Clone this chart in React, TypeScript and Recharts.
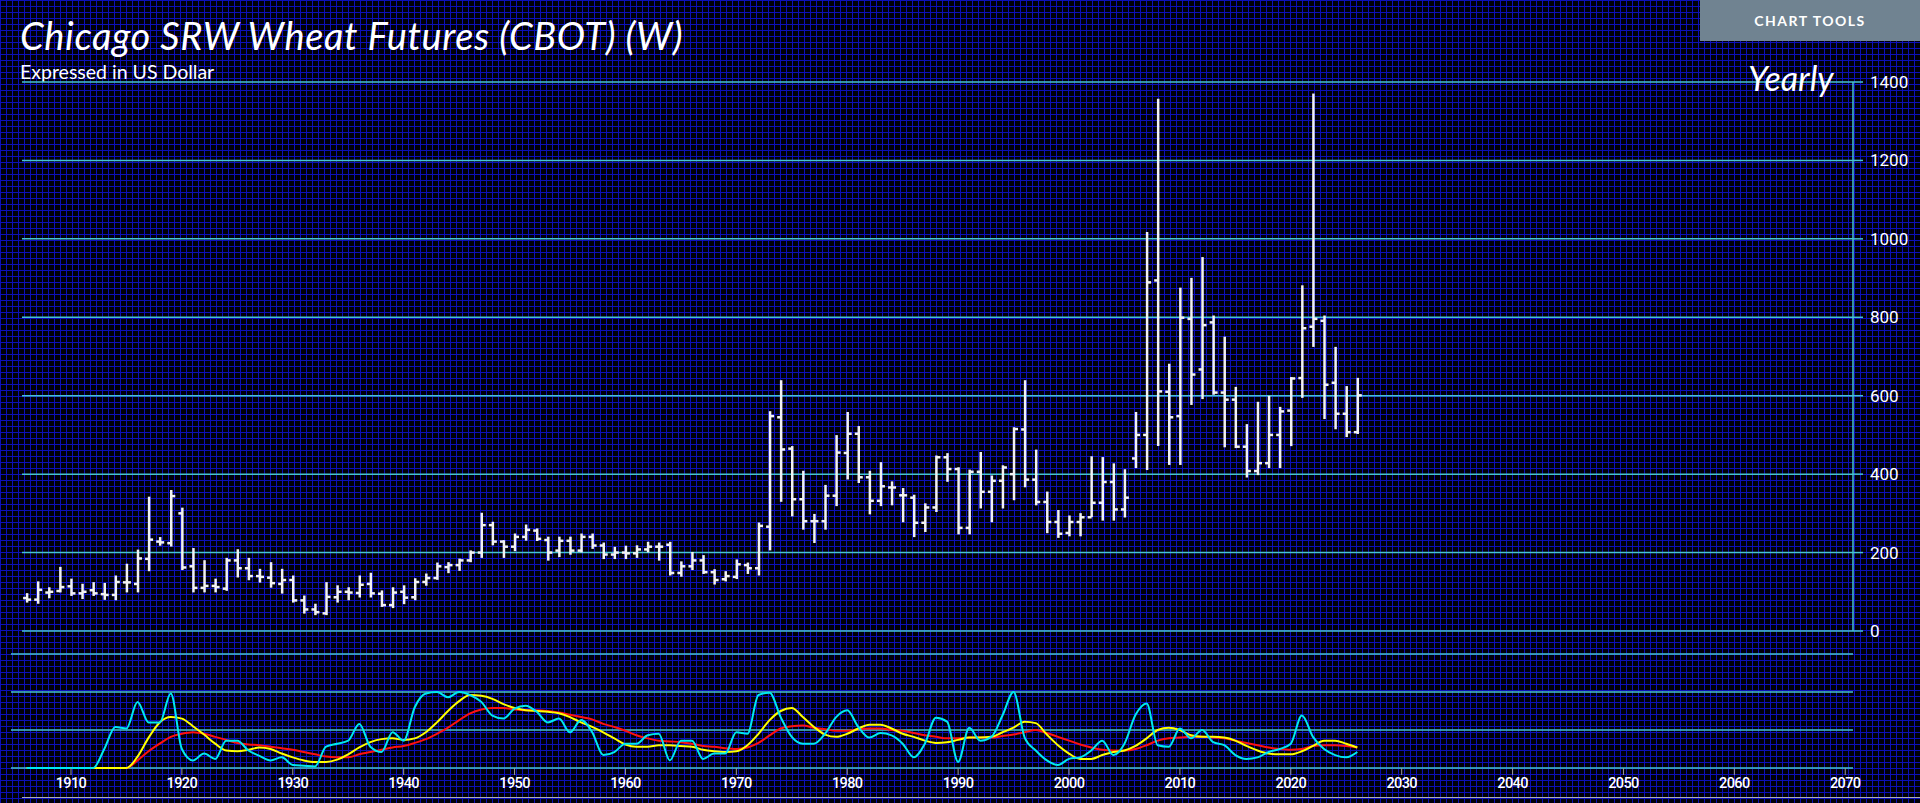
import React from 'react'
import { ComposedChart, Bar, XAxis, YAxis, CartesianGrid, LineChart, Line, ReferenceLine } from 'recharts'

// yearly bars, values in US cents per bushel
const years = [
  1906, 1907, 1908, 1909, 1910, 1911, 1912, 1913, 1914, 1915,
  1916, 1917, 1918, 1919, 1920, 1921, 1922, 1923, 1924, 1925,
  1926, 1927, 1928, 1929, 1930, 1931, 1932, 1933, 1934, 1935,
  1936, 1937, 1938, 1939, 1940, 1941, 1942, 1943, 1944, 1945,
  1946, 1947, 1948, 1949, 1950, 1951, 1952, 1953, 1954, 1955,
  1956, 1957, 1958, 1959, 1960, 1961, 1962, 1963, 1964, 1965,
  1966, 1967, 1968, 1969, 1970, 1971, 1972, 1973, 1974, 1975,
  1976, 1977, 1978, 1979, 1980, 1981, 1982, 1983, 1984, 1985,
  1986, 1987, 1988, 1989, 1990, 1991, 1992, 1993, 1994, 1995,
  1996, 1997, 1998, 1999, 2000, 2001, 2002, 2003, 2004, 2005,
  2006, 2007, 2008, 2009, 2010, 2011, 2012, 2013, 2014, 2015,
  2016, 2017, 2018, 2019, 2020, 2021, 2022, 2023, 2024, 2025, 2026,
]

const opens = [
  84, 80, 98, 102, 114, 96, 104, 94, 92, 124,
  120, 184, 228, 224, 300, 165, 110, 115, 108, 180,
  160, 140, 136, 120, 130, 78, 55, 45, 86, 100,
  97, 120, 95, 66, 100, 86, 125, 135, 163, 168,
  180, 200, 270, 228, 215, 240, 256, 232, 205, 230,
  205, 240, 218, 195, 200, 198, 208, 215, 220, 148,
  165, 180, 150, 132, 138, 168, 160, 266, 545, 465,
  336, 280, 280, 345, 454, 503, 392, 332, 366, 346,
  340, 276, 315, 443, 413, 263, 406, 355, 383, 400,
  514, 386, 329, 278, 250, 278, 290, 327, 380, 310,
  440, 500, 894, 610, 548, 796, 667, 787, 608, 590,
  470, 408, 428, 500, 562, 645, 776, 791, 633, 554, 507,
]

const highs = [
  94, 124, 109, 161, 131, 118, 122, 120, 139, 169,
  205, 340, 237, 357, 312, 209, 178, 131, 184, 206,
  184, 156, 173, 156, 139, 88, 67, 122, 114, 109,
  139, 146, 101, 109, 114, 132, 144, 172, 173, 182,
  203, 299, 276, 229, 246, 269, 259, 238, 238, 238,
  246, 246, 223, 212, 215, 216, 225, 223, 225, 175,
  199, 191, 155, 150, 180, 172, 274, 558, 637, 469,
  406, 296, 370, 497, 556, 520, 406, 428, 379, 362,
  345, 323, 445, 451, 415, 409, 454, 394, 420, 517,
  637, 460, 353, 306, 292, 298, 443, 441, 425, 410,
  556, 1015, 1355, 679, 873, 898, 951, 802, 748, 620,
  525, 582, 597, 569, 645, 879, 1368, 802, 722, 622, 643,
]

const lows = [
  75, 72, 86, 101, 92, 84, 92, 82, 81, 101,
  101, 155, 220, 218, 158, 101, 101, 101, 105, 139,
  132, 126, 113, 98, 75, 47, 43, 43, 75, 81,
  88, 88, 64, 61, 71, 81, 118, 133, 150, 156,
  178, 189, 221, 189, 206, 233, 232, 182, 191, 197,
  203, 212, 186, 186, 186, 189, 203, 182, 144, 141,
  158, 148, 121, 129, 135, 148, 144, 208, 332, 295,
  261, 227, 261, 321, 389, 380, 300, 321, 323, 280,
  242, 255, 306, 383, 249, 249, 315, 280, 315, 336,
  369, 323, 252, 240, 244, 244, 293, 284, 284, 292,
  418, 413, 474, 426, 426, 579, 594, 605, 471, 469,
  394, 400, 418, 418, 474, 597, 727, 543, 517, 497, 505,
]

const closes = [
  80, 105, 100, 112, 96, 100, 96, 92, 125, 124,
  185, 233, 226, 344, 162, 110, 115, 112, 180, 160,
  140, 138, 122, 130, 78, 55, 48, 87, 100, 98,
  118, 96, 66, 98, 85, 125, 135, 165, 168, 180,
  200, 270, 228, 215, 240, 258, 235, 200, 230, 205,
  240, 218, 195, 200, 198, 208, 215, 215, 148, 165,
  180, 150, 130, 140, 170, 160, 268, 548, 463, 336,
  280, 280, 345, 455, 503, 392, 332, 369, 366, 346,
  276, 315, 443, 413, 263, 406, 355, 383, 417, 515,
  386, 329, 278, 248, 278, 290, 327, 380, 310, 340,
  500, 889, 611, 545, 799, 654, 780, 608, 590, 470,
  408, 428, 500, 560, 644, 772, 796, 628, 554, 507, 601,
]

// lower study panel (0-100 oscillators)
const fastLine = [
  0, 0, 0, 0, 0, 0, 0, 25, 54, 52,
  87, 60, 60, 98, 25, 10, 19, 12, 36, 36,
  23, 16, 10, 14, 4, 3, 2, 28, 32, 36,
  58, 28, 21, 47, 36, 80, 98, 100, 93, 100,
  96, 87, 69, 65, 78, 82, 74, 60, 65, 47,
  63, 47, 17, 21, 32, 32, 43, 45, 10, 36,
  36, 12, 19, 19, 47, 45, 96, 99, 67, 41,
  32, 32, 45, 67, 76, 54, 40, 46, 43, 32,
  14, 32, 66, 61, 8, 53, 36, 41, 69, 100,
  40, 23, 10, 4, 12, 14, 23, 36, 17, 32,
  70, 85, 30, 28, 52, 39, 50, 34, 30, 17,
  12, 14, 21, 25, 32, 69, 41, 25, 17, 14, 21,
]

const signalLine = [
  0, 0, 0, 0, 0, 0, 0, 0, 0, 0,
  15, 40, 60, 67, 65, 55, 44, 32, 23, 22,
  24, 27, 25, 19, 14, 10, 8, 8, 11, 18,
  27, 34, 38, 39, 37, 39, 47, 60, 75, 88,
  96, 95, 91, 84, 79, 76, 75, 74, 72, 67,
  60, 54, 47, 39, 31, 28, 28, 30, 30, 29,
  28, 24, 22, 21, 22, 30, 45, 63, 75, 79,
  67, 54, 44, 41, 45, 52, 57, 57, 52, 45,
  41, 36, 33, 34, 37, 40, 40, 41, 47, 53,
  61, 59, 44, 30, 19, 12, 12, 17, 21, 23,
  29, 39, 50, 53, 50, 43, 41, 41, 40, 36,
  29, 23, 19, 18, 18, 22, 29, 36, 36, 32, 27,
]

const slowLine = [
  0, 0, 0, 0, 0, 0, 0, 0, 0, 0,
  10, 22, 32, 41, 45, 47, 45, 41, 37, 33,
  31, 30, 28, 26, 24, 21, 18, 15, 14, 14,
  18, 21, 24, 27, 29, 33, 38, 45, 53, 63,
  72, 77, 79, 79, 77, 76, 76, 75, 73, 70,
  67, 64, 58, 54, 49, 43, 39, 36, 35, 34,
  32, 29, 28, 26, 25, 27, 33, 43, 52, 55,
  56, 53, 51, 49, 49, 51, 52, 52, 50, 49,
  46, 43, 41, 39, 39, 40, 40, 40, 42, 44,
  47, 50, 46, 41, 36, 31, 27, 24, 23, 23,
  25, 30, 36, 39, 40, 41, 41, 40, 39, 36,
  33, 30, 27, 25, 24, 25, 29, 30, 30, 29, 27,
]

const priceTicks = [0, 200, 400, 600, 800, 1000, 1200, 1400]
const studyLevels = [0, 50, 100, 150]
const yearTicks = [1910, 1920, 1930, 1940, 1950, 1960, 1970, 1980, 1990, 2000, 2010, 2020, 2030, 2040, 2050, 2060, 2070]

const GRID = '#46c3d0'
const BAR = '#f2f2f2'

const priceData = years.map((year, i) => ({
  year,
  range: [lows[i], highs[i]],
  open: opens[i],
  high: highs[i],
  low: lows[i],
  close: closes[i],
}))

const studyData = years.map((year, i) => ({
  year,
  fast: fastLine[i],
  signal: signalLine[i],
  slow: slowLine[i],
}))

function OhlcBar(props: any) {
  const { x, y, width, height, payload } = props
  if (x == null || y == null || !payload) return null
  const top = Math.min(y, y + height)
  const bottom = Math.max(y, y + height)
  const span = payload.high - payload.low
  const at = (v: number) => (span ? top + ((payload.high - v) / span) * (bottom - top) : top)
  const cx = x + width / 2
  return (
    <g>
      <line x1={cx} x2={cx} y1={top - 1} y2={bottom + 1} stroke={BAR} strokeWidth={2.5} />
      <line x1={cx - 4} x2={cx} y1={at(payload.open)} y2={at(payload.open)} stroke={BAR} strokeWidth={2.5} />
      <line x1={cx} x2={cx + 4} y1={at(payload.close)} y2={at(payload.close)} stroke={BAR} strokeWidth={2.5} />
    </g>
  )
}

export default function App() {
  return (
    <div
      style={{
        position: 'absolute',
        left: 0,
        top: 0,
        width: 1920,
        height: 803,
        overflow: 'hidden',
        backgroundColor: '#000008',
        backgroundImage:
          'linear-gradient(to right, #0c10b8 1px, transparent 1px), linear-gradient(to bottom, #0c10b8 1px, transparent 1px)',
        backgroundSize: '6px 6px',
        fontFamily: 'Lato, sans-serif',
      }}
    >
      <div
        style={{
          position: 'absolute',
          left: 20,
          top: 12,
          color: '#fff',
          fontStyle: 'italic',
          fontSize: 38,
          letterSpacing: 0.6,
          whiteSpace: 'nowrap',
        }}
      >
        Chicago SRW Wheat Futures (CBOT) (W)
      </div>
      <div style={{ position: 'absolute', left: 20, top: 60, color: '#fff', fontSize: 19.5, whiteSpace: 'nowrap' }}>
        Expressed in US Dollar
      </div>
      <div
        style={{
          position: 'absolute',
          left: 1700,
          top: 0,
          width: 220,
          height: 41,
          background: '#708391',
          color: '#fff',
          fontSize: 14,
          fontWeight: 700,
          letterSpacing: 1.5,
          display: 'flex',
          alignItems: 'center',
          justifyContent: 'center',
        }}
      >
        CHART TOOLS
      </div>

      <div style={{ position: 'absolute', left: 0, top: 0 }}>
        <ComposedChart width={1920} height={650} data={priceData} margin={{ top: 82, right: 0, bottom: 19, left: 22 }}>
          <CartesianGrid horizontal vertical={false} stroke={GRID} strokeWidth={1.5} />
          <XAxis type="number" dataKey="year" domain={[1905.58, 2070.7]} allowDataOverflow hide />
          <YAxis
            orientation="right"
            domain={[0, 1400]}
            ticks={priceTicks}
            width={67}
            tickSize={10}
            tickMargin={7}
            axisLine={{ stroke: GRID, strokeWidth: 1.5 }}
            tickLine={{ stroke: GRID, strokeWidth: 1.5 }}
            tick={{ fill: '#fff', fontSize: 17, fontFamily: 'Roboto' }}
          />
          <Bar dataKey="range" barSize={8} shape={OhlcBar} isAnimationActive={false} />
        </ComposedChart>
      </div>

      <div style={{ position: 'absolute', left: 1748, top: 57, color: '#fff', fontStyle: 'italic', fontSize: 34 }}>
        Yearly
      </div>

      <div style={{ position: 'absolute', left: 0, top: 640 }}>
        <LineChart width={1920} height={163} data={studyData} margin={{ top: 14, right: 67, bottom: 0, left: 11 }}>
          <XAxis
            type="number"
            dataKey="year"
            domain={[1904.59, 2070.7]}
            allowDataOverflow
            ticks={yearTicks}
            height={35}
            tickSize={7}
            tickMargin={3}
            axisLine={false}
            tickLine={{ stroke: '#9a9a9a' }}
            tick={{ fill: '#fff', fontSize: 14.5, fontWeight: 500, fontFamily: 'Roboto', letterSpacing: -0.6 }}
          />
          <YAxis domain={[0, 150]} hide />
          {studyLevels.map((v) => (
            <ReferenceLine key={v} y={v} stroke={GRID} strokeWidth={1.5} />
          ))}
          <Line type="monotone" dataKey="slow" stroke="#ff1010" strokeWidth={2} dot={false} isAnimationActive={false} />
          <Line type="monotone" dataKey="signal" stroke="#ffff00" strokeWidth={2} dot={false} isAnimationActive={false} />
          <Line type="monotone" dataKey="fast" stroke="#00e8f0" strokeWidth={2} dot={false} isAnimationActive={false} />
        </LineChart>
      </div>

      <div style={{ position: 'absolute', left: 22, top: 797, width: 1898, borderTop: '1px solid #b0b0b0' }} />
    </div>
  )
}
